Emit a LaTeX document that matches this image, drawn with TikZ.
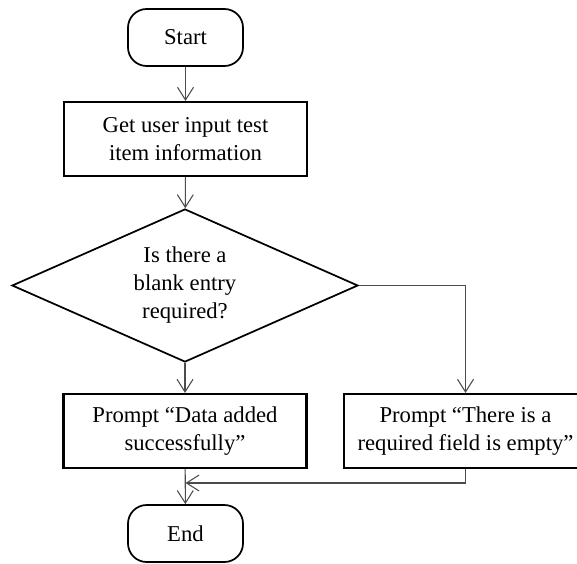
\documentclass[tikz,border=0pt]{standalone}
\usepackage{fontspec}
\setmainfont{Liberation Serif}
\usetikzlibrary{arrows.meta,shapes.geometric}
\begin{document}
\begin{tikzpicture}[x=0.75pt,y=-0.75pt,
  every node/.style={font=\fontsize{17pt}{21pt}\selectfont, align=center, text=black},
  term/.style={draw, line width=1.3pt, rectangle, rounded corners=14pt, minimum width=86.25pt, minimum height=42.75pt, inner sep=0pt},
  proc/.style={draw, line width=1.6pt, rectangle, minimum width=182.25pt, minimum height=55.5pt, inner sep=0pt},
  decis/.style={draw, line width=1.3pt, diamond, shape aspect=2.26, minimum width=259.5pt, minimum height=114.75pt, inner sep=0pt},
  conn/.style={draw=black!70, line width=0.8pt, -{Straight Barb[length=9.5pt,width=12pt,line width=0.8pt]}}
]
\useasboundingbox (0,0) rectangle (577,563);
\node[term] (start) at (185.5,37.5) {Start};
\node[proc] (input) at (185.5,139) {Get user input test\\item information};
\node[decis] (dec) at (185,285.5) {Is there a\\blank entry\\required?};
\node[proc] (ok) at (185,431) {Prompt “Data added\\successfully”};
\node[proc] (err) at (465.5,431) {Prompt “There is a\\required field is empty”};
\node[term] (end) at (185.5,533.5) {End};
\coordinate (join) at (185.5,483);
\draw[conn] (start) -- (input);
\draw[conn] (input) -- (dec);
\draw[conn] (dec) -- (ok);
\draw[conn] (dec.east) -| (err.north);
\draw[conn] (ok) -- (end);
\draw[conn] (err.south) |- (join);
\end{tikzpicture}
\end{document}
